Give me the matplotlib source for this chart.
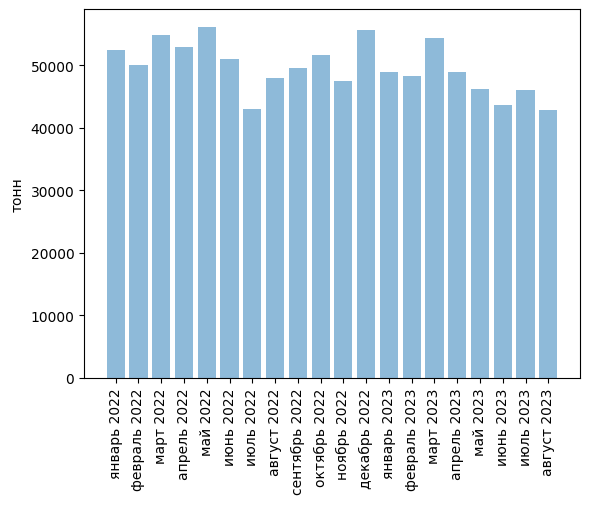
import matplotlib
matplotlib.use('Agg')
import matplotlib.pyplot as plt

months = ['январь 2022', 'февраль 2022', 'март 2022', 'апрель 2022', 'май 2022',
          'июнь 2022', 'июль 2022', 'август 2022', 'сентябрь 2022', 'октябрь 2022',
          'ноябрь 2022', 'декабрь 2022', 'январь 2023', 'февраль 2023', 'март 2023',
          'апрель 2023', 'май 2023', 'июнь 2023', 'июль 2023', 'август 2023']
tonnes = [52500, 50000, 54800, 53000, 56200, 51000, 43000, 47900, 49500, 51600,
          47450, 55700, 48900, 48250, 54450, 48900, 46200, 43650, 46000, 42850]

fig = plt.figure(figsize=(5.89, 5.06), dpi=100)
ax = fig.add_axes([84/589, 1-379/506, (580-84)/589, (379-10)/506])

ax.bar(range(len(months)), tonnes, alpha=0.5)
ax.set_xticks(range(len(months)))
ax.set_xticklabels(months, rotation=90)
ax.set_ylabel('тонн')

fig.savefig('out.png')
